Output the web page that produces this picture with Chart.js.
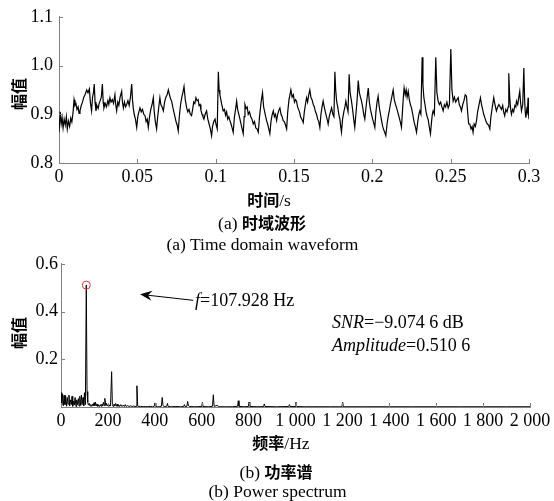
<!DOCTYPE html>
<html>
<head>
<meta charset="utf-8">
<script src="https://cdn.jsdelivr.net/npm/chart.js@4.4.0/dist/chart.umd.min.js"></script>
<style>
  body { margin: 0; background: #fff; }
  #wrap { position: relative; width: 554px; height: 501px; overflow: hidden; font-family: "Liberation Serif", serif; color: #000; }
  canvas { position: absolute; left: 0; }
  .lbl { position: absolute; white-space: nowrap; line-height: 1; transform: translate(-50%, -50%); }
  .left { transform: translate(0, -50%); }
  .cjk { font-family: "Noto Sans CJK SC", sans-serif; font-weight: bold; }
</style>
</head>
<body>
<div id="wrap">
  <canvas id="timeChart" width="554" height="210" style="top:0px"></canvas>
  <canvas id="specChart" width="554" height="205" style="top:250px"></canvas>

  <div class="lbl cjk" style="left:17.5px;top:94px;font-size:16px;transform:translate(-50%,-50%) rotate(-90deg)">幅值</div>
  <div class="lbl" style="left:269px;top:200px;font-size:17.5px"><span class="cjk" style="font-size:16px">时间</span>/s</div>
  <div class="lbl" style="left:262px;top:223px;font-size:17.5px">(a) <span class="cjk" style="font-size:16px">时域波形</span></div>
  <div class="lbl" style="left:262.5px;top:245px;font-size:17.5px">(a) Time domain waveform</div>

  <div class="lbl cjk" style="left:17.5px;top:333px;font-size:16px;transform:translate(-50%,-50%) rotate(-90deg)">幅值</div>
  <div class="lbl" style="left:281px;top:443px;font-size:17.5px"><span class="cjk" style="font-size:16px">频率</span>/Hz</div>
  <div class="lbl" style="left:276px;top:472px;font-size:17.5px">(b) <span class="cjk" style="font-size:16px">功率谱</span></div>
  <div class="lbl" style="left:277.5px;top:492px;font-size:17.5px">(b) Power spectrum</div>

  <div class="lbl left" style="left:195px;top:300px;font-size:18px"><i>f</i>=107.928 Hz</div>
  <div class="lbl left" style="left:332px;top:322px;font-size:18px"><i>SNR</i>=&minus;9.074 6 dB</div>
  <div class="lbl left" style="left:332px;top:345px;font-size:18px"><i>Amplitude</i>=0.510 6</div>
</div>

<script>
// (a) time domain waveform
const TIME_S = [
  0.0000, 0.0008, 0.0014, 0.0020, 0.0026, 0.0033, 0.0040, 0.0047, 0.0053, 0.0060,
  0.0068, 0.0075, 0.0082, 0.0090, 0.0096, 0.0102, 0.0108, 0.0115, 0.0122, 0.0128,
  0.0134, 0.0142, 0.0150, 0.0158, 0.0166, 0.0177, 0.0185, 0.0194, 0.0200, 0.0208,
  0.0214, 0.0220, 0.0225, 0.0230, 0.0236, 0.0242, 0.0250, 0.0256, 0.0262, 0.0270,
  0.0277, 0.0282, 0.0287, 0.0295, 0.0303, 0.0312, 0.0318, 0.0325, 0.0332, 0.0340,
  0.0348, 0.0357, 0.0362, 0.0368, 0.0375, 0.0382, 0.0390, 0.0400, 0.0405, 0.0411,
  0.0418, 0.0425, 0.0432, 0.0440, 0.0448, 0.0456, 0.0464, 0.0469, 0.0474, 0.0480,
  0.0488, 0.0496, 0.0503, 0.0510, 0.0517, 0.0525, 0.0533, 0.0541, 0.0549, 0.0556,
  0.0563, 0.0570, 0.0578, 0.0586, 0.0594, 0.0602, 0.0608, 0.0615, 0.0623, 0.0630,
  0.0637, 0.0644, 0.0650, 0.0658, 0.0666, 0.0674, 0.0682, 0.0690, 0.0698, 0.0705,
  0.0712, 0.0719, 0.0726, 0.0733, 0.0740, 0.0747, 0.0754, 0.0761, 0.0768, 0.0776,
  0.0784, 0.0791, 0.0798, 0.0806, 0.0815, 0.0822, 0.0830, 0.0838, 0.0846, 0.0853,
  0.0860, 0.0867, 0.0874, 0.0881, 0.0888, 0.0894, 0.0900, 0.0906, 0.0913, 0.0919,
  0.0925, 0.0933, 0.0942, 0.0950, 0.0958, 0.0966, 0.0974, 0.0980, 0.0988, 0.0996,
  0.1003, 0.1010, 0.1017, 0.1022, 0.1027, 0.1033, 0.1040, 0.1048, 0.1056, 0.1063,
  0.1070, 0.1077, 0.1084, 0.1091, 0.1098, 0.1105, 0.1112, 0.1120, 0.1127, 0.1134,
  0.1140, 0.1148, 0.1155, 0.1162, 0.1169, 0.1176, 0.1182, 0.1187, 0.1194, 0.1201,
  0.1208, 0.1216, 0.1224, 0.1232, 0.1240, 0.1248, 0.1256, 0.1264, 0.1272, 0.1280,
  0.1290, 0.1299, 0.1306, 0.1313, 0.1319, 0.1325, 0.1332, 0.1339, 0.1346, 0.1353,
  0.1360, 0.1368, 0.1375, 0.1382, 0.1389, 0.1396, 0.1403, 0.1410, 0.1417, 0.1424,
  0.1431, 0.1438, 0.1446, 0.1453, 0.1460, 0.1468, 0.1474, 0.1480, 0.1488, 0.1496,
  0.1503, 0.1510, 0.1516, 0.1523, 0.1529, 0.1535, 0.1542, 0.1550, 0.1559, 0.1566,
  0.1573, 0.1580, 0.1587, 0.1594, 0.1601, 0.1608, 0.1615, 0.1623, 0.1630, 0.1637,
  0.1644, 0.1651, 0.1658, 0.1665, 0.1672, 0.1679, 0.1686, 0.1693, 0.1700, 0.1707,
  0.1713, 0.1718, 0.1725, 0.1733, 0.1740, 0.1748, 0.1755, 0.1761, 0.1766, 0.1772,
  0.1779, 0.1786, 0.1793, 0.1798, 0.1803, 0.1810, 0.1818, 0.1825, 0.1831, 0.1838,
  0.1845, 0.1852, 0.1858, 0.1867, 0.1874, 0.1881, 0.1888, 0.1895, 0.1903, 0.1910,
  0.1917, 0.1924, 0.1931, 0.1938, 0.1945, 0.1952, 0.1960, 0.1967, 0.1974, 0.1981,
  0.1988, 0.1995, 0.2002, 0.2009, 0.2016, 0.2023, 0.2030, 0.2037, 0.2044, 0.2052,
  0.2059, 0.2066, 0.2073, 0.2080, 0.2086, 0.2094, 0.2101, 0.2108, 0.2115, 0.2124,
  0.2133, 0.2140, 0.2148, 0.2155, 0.2162, 0.2170, 0.2178, 0.2186, 0.2193, 0.2198,
  0.2203, 0.2210, 0.2216, 0.2222, 0.2229, 0.2236, 0.2243, 0.2250, 0.2258, 0.2266,
  0.2274, 0.2282, 0.2290, 0.2297, 0.2303, 0.2310, 0.2318, 0.2323, 0.2329, 0.2336,
  0.2343, 0.2350, 0.2356, 0.2363, 0.2371, 0.2378, 0.2383, 0.2388, 0.2396, 0.2405,
  0.2412, 0.2420, 0.2428, 0.2436, 0.2444, 0.2452, 0.2460, 0.2468, 0.2476, 0.2484,
  0.2492, 0.2501, 0.2508, 0.2516, 0.2524, 0.2532, 0.2540, 0.2548, 0.2555, 0.2562,
  0.2569, 0.2577, 0.2585, 0.2593, 0.2601, 0.2608, 0.2615, 0.2622, 0.2630, 0.2637,
  0.2643, 0.2650, 0.2658, 0.2665, 0.2672, 0.2681, 0.2690, 0.2697, 0.2704, 0.2711,
  0.2718, 0.2726, 0.2734, 0.2742, 0.2750, 0.2757, 0.2766, 0.2775, 0.2783, 0.2792,
  0.2800, 0.2808, 0.2816, 0.2824, 0.2832, 0.2838, 0.2845, 0.2852, 0.2860, 0.2867,
  0.2871, 0.2877, 0.2883, 0.2888, 0.2895, 0.2902, 0.2910, 0.2916, 0.2920, 0.2928,
  0.2935, 0.2941, 0.2946, 0.2952, 0.2960, 0.2967, 0.2972, 0.2976, 0.2980, 0.2986,
  0.2990, 0.2994, 0.2997, 0.3000
];
const WAVE_AMP = [
  0.863, 0.905, 0.880, 0.893, 0.872, 0.890, 0.878, 0.895, 0.870, 0.886,
  0.875, 0.892, 0.884, 0.905, 0.930, 0.918, 0.922, 0.910, 0.915, 0.902,
  0.907, 0.918, 0.925, 0.935, 0.940, 0.950, 0.944, 0.952, 0.925, 0.907,
  0.935, 0.945, 0.962, 0.925, 0.907, 0.918, 0.912, 0.922, 0.927, 0.935,
  0.962, 0.925, 0.913, 0.922, 0.915, 0.928, 0.920, 0.934, 0.925, 0.930,
  0.922, 0.940, 0.920, 0.907, 0.925, 0.918, 0.935, 0.947, 0.925, 0.913,
  0.925, 0.915, 0.920, 0.928, 0.918, 0.935, 0.962, 0.930, 0.913, 0.900,
  0.890, 0.873, 0.895, 0.905, 0.913, 0.905, 0.910, 0.900, 0.897, 0.885,
  0.890, 0.873, 0.895, 0.910, 0.920, 0.934, 0.905, 0.885, 0.870, 0.895,
  0.915, 0.934, 0.920, 0.915, 0.907, 0.925, 0.935, 0.940, 0.950, 0.940,
  0.932, 0.927, 0.915, 0.905, 0.895, 0.885, 0.878, 0.866, 0.895, 0.920,
  0.935, 0.945, 0.957, 0.930, 0.913, 0.905, 0.910, 0.900, 0.897, 0.910,
  0.925, 0.922, 0.934, 0.928, 0.930, 0.918, 0.920, 0.908, 0.900, 0.895,
  0.890, 0.900, 0.907, 0.890, 0.880, 0.870, 0.856, 0.875, 0.885, 0.890,
  0.878, 0.870, 0.987, 0.950, 0.940, 0.930, 0.918, 0.907, 0.910, 0.898,
  0.905, 0.890, 0.895, 0.887, 0.880, 0.872, 0.863, 0.895, 0.910, 0.927,
  0.910, 0.900, 0.890, 0.880, 0.870, 0.860, 0.895, 0.920, 0.912, 0.915,
  0.900, 0.905, 0.895, 0.890, 0.880, 0.885, 0.872, 0.870, 0.863, 0.895,
  0.925, 0.944, 0.915, 0.905, 0.895, 0.887, 0.880, 0.870, 0.860, 0.885,
  0.898, 0.907, 0.895, 0.900, 0.887, 0.900, 0.908, 0.913, 0.900, 0.895,
  0.887, 0.885, 0.878, 0.870, 0.905, 0.930, 0.940, 0.950, 0.935, 0.940,
  0.925, 0.930, 0.927, 0.915, 0.910, 0.905, 0.895, 0.890, 0.883, 0.905,
  0.920, 0.934, 0.925, 0.940, 0.950, 0.935, 0.930, 0.920, 0.915, 0.905,
  0.900, 0.890, 0.885, 0.873, 0.900, 0.915, 0.927, 0.915, 0.905, 0.895,
  0.888, 0.880, 0.895, 0.905, 0.913, 0.900, 0.895, 0.987, 0.950, 0.927,
  0.915, 0.900, 0.890, 0.875, 0.863, 0.890, 0.905, 0.915, 0.927, 0.915,
  0.905, 0.982, 0.945, 0.927, 0.910, 0.890, 0.873, 0.900, 0.930, 0.969,
  0.945, 0.935, 0.927, 0.915, 0.900, 0.890, 0.915, 0.935, 0.954, 0.925,
  0.910, 0.900, 0.890, 0.882, 0.873, 0.905, 0.925, 0.937, 0.915, 0.900,
  0.887, 0.875, 0.868, 0.862, 0.856, 0.880, 0.895, 0.907, 0.920, 0.935,
  0.950, 0.930, 0.920, 0.913, 0.905, 0.895, 0.885, 0.873, 0.910, 0.935,
  0.954, 0.940, 0.950, 0.935, 0.947, 0.930, 0.920, 0.913, 0.900, 0.885,
  0.875, 0.863, 0.885, 0.900, 0.907, 0.900, 1.017, 0.960, 0.934, 0.920,
  0.905, 0.895, 0.890, 0.875, 0.860, 0.885, 0.900, 0.907, 0.900, 1.017,
  0.945, 0.927, 0.920, 0.925, 0.915, 0.907, 0.920, 0.915, 0.925, 0.913,
  0.920, 1.034, 0.950, 0.927, 0.935, 0.925, 0.930, 0.934, 0.920, 0.915,
  0.907, 0.920, 0.928, 0.940, 0.937, 0.905, 0.880, 0.880, 0.870, 0.875,
  0.863, 0.880, 0.875, 0.887, 0.905, 0.920, 0.934, 0.920, 0.910, 0.900,
  0.893, 0.885, 0.880, 0.878, 0.870, 0.895, 0.915, 0.934, 0.920, 0.907,
  0.915, 0.920, 0.915, 0.910, 0.918, 0.905, 0.897, 0.910, 0.905, 0.915,
  0.984, 0.935, 0.910, 0.900, 0.910, 0.905, 0.918, 0.915, 0.927, 0.920,
  0.935, 0.947, 0.925, 0.907, 0.920, 0.995, 0.930, 0.905, 0.893, 0.910,
  0.905, 0.934, 0.900, 0.890
];
const TIME_TICKS = [0, 0.05, 0.1, 0.15, 0.2, 0.25, 0.3];
const TIME_TICK_LABELS = ['0', '0.05', '0.1', '0.15', '0.2', '0.25', '0.3'];
const WAVE_TICKS = [0.8, 0.9, 1.0, 1.1];
const WAVE_TICK_LABELS = ['0.8', '0.9', '1.0', '1.1'];

// (b) power spectrum
const FREQ_HZ = [
  0, 3, 6, 10, 13, 17, 20, 24, 27, 30, 34, 37, 40, 44, 47, 50, 54, 57, 60, 64,
  67, 70, 74, 77, 80, 84, 87, 90, 94, 97, 100, 104, 107.9, 111, 114, 117, 121, 124, 127, 131,
  134, 137, 141, 144, 147, 151, 154, 157, 161, 164, 168, 171, 174, 178, 181, 184, 187, 191, 194, 197,
  201, 204, 208, 211, 215.9, 219, 222, 226, 229, 233, 236, 240, 243, 247, 250, 255, 260, 265, 270, 274,
  278, 285, 290, 297, 303, 310, 316, 320, 323.8, 327, 333, 340, 350, 360, 370, 380, 390, 397, 401, 404,
  412, 420, 428, 431.7, 435, 440, 451, 454, 457, 470, 490, 510, 523, 526, 529, 537, 540, 543, 547, 570,
  600, 603, 606, 630, 646, 649.6, 653, 668, 671, 700, 730, 753, 756, 759, 780, 799, 802, 805, 840, 864,
  867, 870, 920, 971, 974, 977, 999, 1002, 1005, 1040, 1080, 1083, 1086, 1150, 1198, 1201, 1204, 1300, 1500, 1700,
  1900, 2000
];
const SPEC_AMP = [
  0.060, 0.010, 0.055, 0.005, 0.050, 0.010, 0.045, 0.003, 0.040, 0.012, 0.050, 0.004, 0.030, 0.010, 0.045, 0.003, 0.025, 0.008, 0.040, 0.002,
  0.030, 0.010, 0.035, 0.004, 0.045, 0.006, 0.050, 0.010, 0.040, 0.005, 0.060, 0.010, 0.5106, 0.065, 0.020, 0.008, 0.015, 0.004, 0.010, 0.003,
  0.012, 0.004, 0.018, 0.005, 0.020, 0.004, 0.012, 0.003, 0.008, 0.002, 0.010, 0.003, 0.012, 0.004, 0.020, 0.006, 0.036, 0.006, 0.015, 0.004,
  0.010, 0.003, 0.008, 0.004, 0.148, 0.010, 0.003, 0.012, 0.004, 0.015, 0.003, 0.012, 0.003, 0.008, 0.002, 0.010, 0.002, 0.008, 0.002, 0.010,
  0.002, 0.006, 0.002, 0.005, 0.002, 0.004, 0.002, 0.003, 0.089, 0.004, 0.002, 0.003, 0.001, 0.002, 0.001, 0.003, 0.001, 0.002, 0.017, 0.002,
  0.001, 0.002, 0.003, 0.040, 0.006, 0.002, 0.003, 0.015, 0.002, 0.001, 0.002, 0.001, 0.002, 0.010, 0.002, 0.003, 0.023, 0.008, 0.002, 0.001,
  0.002, 0.019, 0.002, 0.001, 0.003, 0.051, 0.003, 0.007, 0.001, 0.001, 0.001, 0.003, 0.026, 0.003, 0.001, 0.002, 0.020, 0.002, 0.001, 0.002,
  0.013, 0.002, 0.001, 0.002, 0.010, 0.002, 0.002, 0.020, 0.002, 0.001, 0.001, 0.004, 0.001, 0.001, 0.001, 0.020, 0.001, 0.001, 0.001, 0.001,
  0.001, 0.001
];
const PEAK_FREQ = [107.928];
const PEAK_AMP = [0.5106];
const FREQ_TICKS = [0, 200, 400, 600, 800, 1000, 1200, 1400, 1600, 1800, 2000];
const FREQ_TICK_LABELS = ['0', '200', '400', '600', '800', '1 000', '1 200', '1 400', '1 600', '1 800', '2 000'];
const SPEC_TICKS = [0.2, 0.4, 0.6];
const SPEC_TICK_LABELS = ['0.2', '0.4', '0.6'];

const AXIS_COLOR = '#808080';
const TICK_FONT = { family: 'Liberation Serif', size: 18 };

// small tick marks pointing into the plot, like the original figure
const inwardTicks = {
  id: 'inwardTicks',
  afterDatasetsDraw(chart) {
    const ctx = chart.ctx;
    const xs = chart.scales.x, ys = chart.scales.y;
    ctx.save();
    ctx.strokeStyle = AXIS_COLOR;
    ctx.lineWidth = 1;
    ctx.beginPath();
    xs.ticks.forEach(function (t) {
      const px = Math.round(xs.getPixelForValue(t.value)) + 0.5;
      ctx.moveTo(px, ys.bottom);
      ctx.lineTo(px, ys.bottom - 4);
    });
    ys.ticks.forEach(function (t) {
      const py = Math.round(ys.getPixelForValue(t.value)) + 0.5;
      ctx.moveTo(xs.left, py);
      ctx.lineTo(xs.left + 4, py);
    });
    ctx.stroke();
    ctx.restore();
  }
};

// arrow pointing at the fundamental, in data units
const peakArrow = {
  id: 'peakArrow',
  afterDatasetsDraw(chart) {
    if (chart.canvas.id !== 'specChart') return;
    const ctx = chart.ctx;
    const xs = chart.scales.x, ys = chart.scales.y;
    const x0 = xs.getPixelForValue(564), y0 = ys.getPixelForValue(0.447);
    const x1 = xs.getPixelForValue(337), y1 = ys.getPixelForValue(0.472);
    const ang = Math.atan2(y1 - y0, x1 - x0);
    ctx.save();
    ctx.strokeStyle = '#000';
    ctx.fillStyle = '#000';
    ctx.lineWidth = 1;
    ctx.beginPath();
    ctx.moveTo(x0, y0);
    ctx.lineTo(x1 - 6 * Math.cos(ang), y1 - 6 * Math.sin(ang));
    ctx.stroke();
    ctx.translate(x1, y1);
    ctx.rotate(ang);
    ctx.beginPath();
    ctx.moveTo(0, 0);
    ctx.lineTo(-12, -5);
    ctx.lineTo(-8, 0);
    ctx.lineTo(-12, 5);
    ctx.closePath();
    ctx.fill();
    ctx.restore();
  }
};

function axisX(min, max, ticks, labels, height) {
  return {
    type: 'linear',
    min: min,
    max: max,
    afterBuildTicks: function (s) { s.ticks = ticks.map(function (v) { return { value: v }; }); },
    afterFit: function (s) { s.height = height; },
    grid: { drawOnChartArea: false, drawTicks: false },
    border: { color: AXIS_COLOR, width: 1 },
    ticks: {
      autoSkip: false,
      maxRotation: 0,
      padding: 3,
      color: '#000',
      font: TICK_FONT,
      callback: function (v, i) { return labels[i]; }
    }
  };
}

function axisY(min, max, ticks, labels, width, pad) {
  return {
    type: 'linear',
    min: min,
    max: max,
    afterBuildTicks: function (s) { s.ticks = ticks.map(function (v) { return { value: v }; }); },
    afterFit: function (s) { s.width = width; },
    grid: { drawOnChartArea: false, drawTicks: false },
    border: { color: AXIS_COLOR, width: 1 },
    ticks: {
      padding: pad,
      color: '#000',
      font: TICK_FONT,
      callback: function (v, i) { return labels[i]; }
    }
  };
}

const waveData = TIME_S.map(function (t, i) { return { x: t, y: WAVE_AMP[i] }; });

new Chart(document.getElementById('timeChart').getContext('2d'), {
  type: 'line',
  data: {
    datasets: [{
      data: waveData,
      borderColor: '#000',
      borderWidth: 1.2,
      pointRadius: 0,
      tension: 0
    }]
  },
  options: {
    responsive: false,
    animation: false,
    layout: { padding: { left: 0, right: 25, top: 14, bottom: 0 } },
    plugins: { legend: { display: false }, tooltip: { enabled: false } },
    scales: {
      x: axisX(0, 0.3, TIME_TICKS, TIME_TICK_LABELS, 47),
      y: axisY(0.8, 1.1, WAVE_TICKS, WAVE_TICK_LABELS, 59, 6)
    }
  },
  plugins: [inwardTicks]
});

const specData = FREQ_HZ.map(function (f, i) { return { x: f, y: SPEC_AMP[i] }; });
const peakData = PEAK_FREQ.map(function (f, i) { return { x: f, y: PEAK_AMP[i] }; });

new Chart(document.getElementById('specChart').getContext('2d'), {
  type: 'line',
  data: {
    datasets: [{
      data: peakData,
      showLine: false,
      pointRadius: 4,
      pointBorderWidth: 1,
      pointBorderColor: '#e23b3b',
      pointBackgroundColor: 'rgba(0,0,0,0)'
    }, {
      data: specData,
      borderColor: '#000',
      borderWidth: 1,
      pointRadius: 0,
      tension: 0
    }]
  },
  options: {
    responsive: false,
    animation: false,
    layout: { padding: { left: 0, right: 24, top: 13, bottom: 0 } },
    plugins: { legend: { display: false }, tooltip: { enabled: false } },
    scales: {
      x: axisX(0, 2000, FREQ_TICKS, FREQ_TICK_LABELS, 48),
      y: axisY(0, 0.6, SPEC_TICKS, SPEC_TICK_LABELS, 61, 3)
    }
  },
  plugins: [inwardTicks, peakArrow]
});
</script>
</body>
</html>
